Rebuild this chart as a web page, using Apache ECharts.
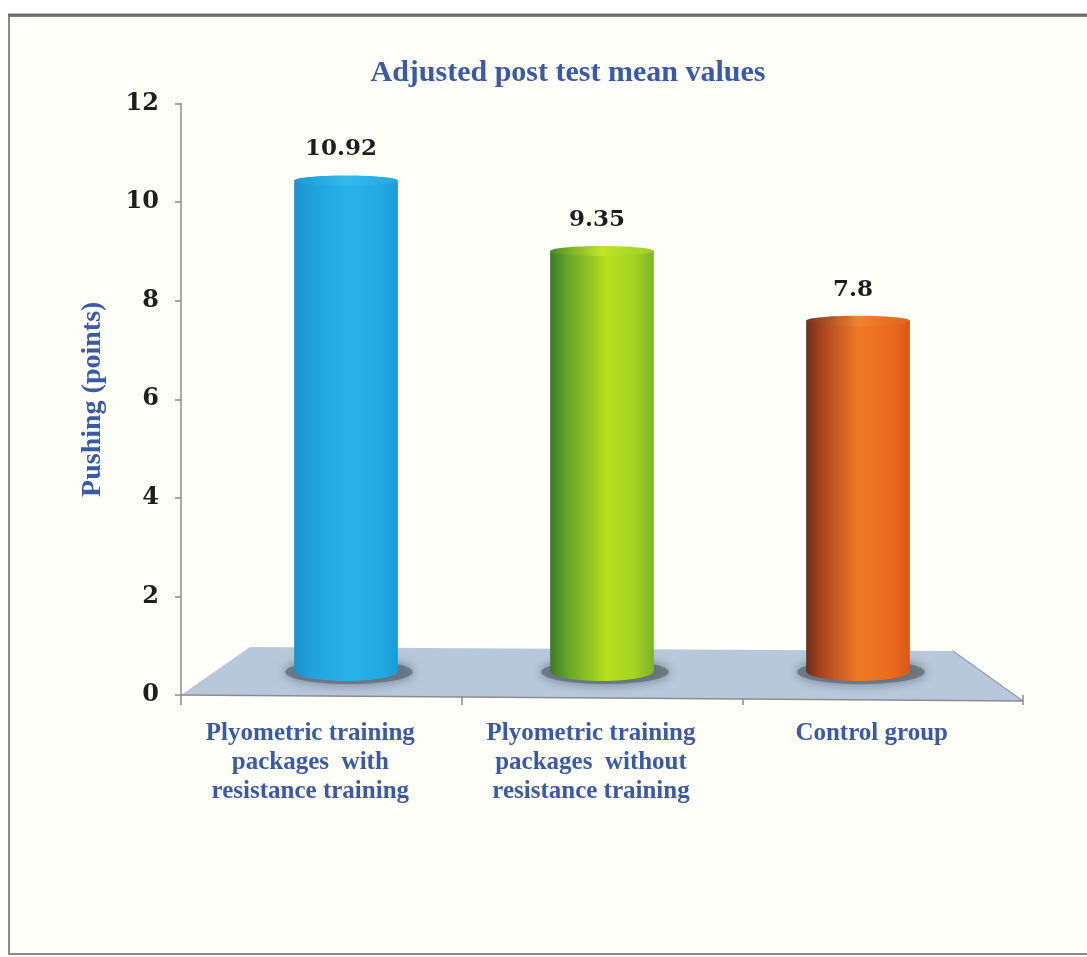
<!DOCTYPE html>
<html>
<head>
<meta charset="utf-8">
<script src="https://cdn.jsdelivr.net/npm/echarts@6/dist/echarts.min.js"></script>
<style>
  html, body { margin: 0; padding: 0; background: #ffffff; }
  #chart { width: 1087px; height: 957px; }
</style>
</head>
<body>
<div id="chart"></div>
<script>
// Chart data
const categories = [
  'Plyometric training\npackages  with\nresistance training',
  'Plyometric training\npackages  without\nresistance training',
  'Control group'
];
const meanValues = [10.92, 9.35, 7.8];
const yMin = 0;
const yMax = 12;
const yStep = 2;

// Cylinder colour ramps (left to right across the face)
const bodyStops = [
  [[0, '#1a92cd'], [0.18, '#20a3dd'], [0.55, '#2ab2e8'], [0.85, '#23a8e2'], [1, '#1c9ad6']],
  [[0, '#3c7c24'], [0.16, '#64a22a'], [0.55, '#b8df1c'], [0.8, '#a6d424'], [1, '#7db42e']],
  [[0, '#6e2e1a'], [0.16, '#ac461e'], [0.5, '#ef7a24'], [0.82, '#ec6a1e'], [1, '#d8581a']]
];
const topStops = [
  [[0, '#1e9ad6'], [0.5, '#34b8ec'], [1, '#26a8e2']],
  [[0, '#4e8e26'], [0.5, '#c2e42a'], [1, '#9ccc2c']],
  [[0, '#7a321a'], [0.5, '#f0822e'], [1, '#e0641e']]
];

const titleBlue = '#3b5aa6';
const serif = '"Liberation Serif", "Times New Roman", serif';
const numFont = '"DejaVu Serif", serif';

const chart = echarts.init(document.getElementById('chart'), null, { renderer: 'canvas' });

function grad(stops) {
  return new echarts.graphic.LinearGradient(0, 0, 1, 0,
    stops.map(s => ({ offset: s[0], color: s[1] })));
}

// Floor plane drawn under the bars, sized from the category axis
function renderFloor(params, api) {
  const c0 = api.coord([0, 0]);
  const band = api.size([1, 0])[0];
  const left = c0[0] - band / 2;
  const right = left + band * categories.length;
  const y0 = c0[1];
  return {
    type: 'group',
    children: [
      {
        type: 'polygon',
        shape: { points: [[left, y0], [left + 69, y0 - 48], [right - 70, y0 - 44], [right, y0 + 6]] },
        style: { fill: '#b8c8dc', stroke: null }
      },
      {
        type: 'line',
        shape: { x1: right - 70, y1: y0 - 44, x2: right, y2: y0 + 6 },
        style: { stroke: '#8e9cae', lineWidth: 1.2 }
      },
      {
        type: 'line',
        shape: { x1: left, y1: y0, x2: right, y2: y0 + 6 },
        style: { stroke: '#8c8c8c', lineWidth: 1.5 }
      }
    ]
  };
}

// Cylinder bars with a soft floor shadow and a value label
function renderCylinder(params, api) {
  const idx = api.value(0);
  const v = api.value(1);
  const top = api.coord([idx, v]);
  const base = api.coord([idx, 0]);
  const band = api.size([1, 0])[0];
  const w = band * 0.405;
  const rx = w / 2;
  const cx = top[0];
  return {
    type: 'group',
    children: [
      {
        type: 'ellipse',
        shape: { cx: cx + 3, cy: base[1] + 1, rx: rx + 12, ry: 12 },
        style: { fill: 'rgba(100,110,122,0.8)', shadowBlur: 12, shadowColor: 'rgba(80,90,102,0.9)' }
      },
      {
        type: 'rect',
        shape: { x: cx - rx, y: top[1], width: w, height: base[1] - top[1] },
        style: { fill: grad(bodyStops[idx]) }
      },
      {
        type: 'ellipse',
        shape: { cx: cx, cy: base[1], rx: rx, ry: 10 },
        style: { fill: grad(bodyStops[idx]) }
      },
      {
        type: 'ellipse',
        shape: { cx: cx, cy: top[1], rx: rx, ry: 5 },
        style: { fill: grad(topStops[idx]) }
      },
      {
        type: 'text',
        style: {
          x: cx - 5, y: top[1] - 31,
          text: String(meanValues[idx]),
          fill: '#1e1e1e',
          font: 'bold 23px ' + numFont,
          align: 'center', verticalAlign: 'middle'
        }
      }
    ]
  };
}

const option = {
  backgroundColor: '#ffffff',
  animation: false,
  graphic: [
    {
      type: 'rect',
      left: 8, top: 15, z: -10,
      shape: { width: 1100, height: 938 },
      style: { fill: '#fffffa', stroke: '#8a8a8a', lineWidth: 2 }
    },
    {
      type: 'line', z: -9,
      shape: { x1: 8, y1: 15, x2: 1087, y2: 15 },
      style: { stroke: '#6e6e6e', lineWidth: 3 }
    }
  ],
  title: {
    text: 'Adjusted post test mean values',
    left: 563, top: 53, textAlign: 'center',
    textStyle: { fontFamily: serif, fontWeight: 'bold', fontSize: 30, color: titleBlue }
  },
  grid: [
    { left: 181, top: 103.5, width: 842, height: 591.5 },
    { left: 218, top: 132, width: 768, height: 539 }
  ],
  xAxis: [
    {
      type: 'category', gridIndex: 0, data: categories,
      axisLine: { show: false },
      axisTick: { show: true, length: 10, lineStyle: { color: '#8c8c8c', width: 1.5 } },
      axisLabel: {
        margin: 24, interval: 0, color: titleBlue,
        fontFamily: serif, fontWeight: 'bold', fontSize: 25, lineHeight: 29,
        padding: [0, 22, 0, 0]
      }
    },
    { type: 'category', gridIndex: 1, data: categories, show: false }
  ],
  yAxis: [
    {
      type: 'value', gridIndex: 0, min: yMin, max: yMax, interval: yStep,
      name: 'Pushing (points)', nameLocation: 'middle', nameGap: 74,
      nameTextStyle: { fontFamily: serif, fontWeight: 'bold', fontSize: 28, color: titleBlue },
      axisLine: { show: true, lineStyle: { color: '#8c8c8c', width: 1.5 } },
      axisTick: { show: true, length: 6, lineStyle: { color: '#8c8c8c', width: 1.5 } },
      splitLine: { show: false },
      axisLabel: { margin: 22, color: '#1e1e1e', fontFamily: numFont, fontWeight: 'bold', fontSize: 24 }
    },
    { type: 'value', gridIndex: 1, min: yMin, max: yMax, show: false }
  ],
  series: [
    {
      type: 'custom', xAxisIndex: 0, yAxisIndex: 0, z: 1, clip: false,
      renderItem: renderFloor, data: [[0, 0]], silent: true
    },
    {
      type: 'custom', xAxisIndex: 1, yAxisIndex: 1, z: 3, clip: false,
      renderItem: renderCylinder,
      data: meanValues.map((v, i) => [i, v])
    }
  ]
};

chart.setOption(option);
</script>
</body>
</html>
